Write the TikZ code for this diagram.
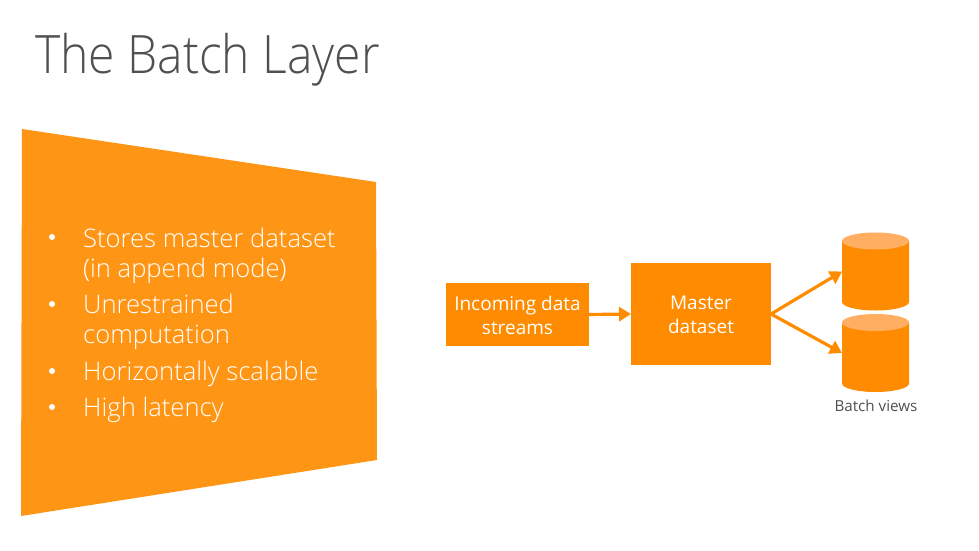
\documentclass[tikz,border=0pt]{standalone}
\usepackage{fontspec}
\setmainfont{Open Sans}
\newfontfamily\lightfont{Open Sans Light}
\usetikzlibrary{arrows.meta}
\definecolor{panel}{HTML}{FF9515}
\definecolor{boxfill}{HTML}{FF8C00}
\definecolor{captop}{HTML}{FFAE62}
\definecolor{titlegray}{HTML}{505050}
\definecolor{labelgray}{HTML}{505050}
\tikzset{
  orangebox/.style={fill=boxfill,draw=none,inner sep=0pt,outer sep=0pt,text=white,align=center,font=\fontsize{19}{24}\selectfont},
  storeframe/.style={inner sep=0pt,outer sep=0pt,minimum width=67pt,minimum height=78pt},
  flow/.style={draw=boxfill,line width=3.2pt,-{Triangle[length=12pt,width=14pt]}},
  bullettext/.style={anchor=base west,inner sep=0pt,text=white,font=\lightfont\fontsize{25.6}{30}\selectfont},
  bulletdot/.style={circle,fill=white,inner sep=0pt,minimum size=6pt}
}
\begin{document}
\begin{tikzpicture}[x=1pt,y=-1pt]
\useasboundingbox (0,0) rectangle (979,551);
\node[anchor=base west,inner sep=0pt,text=titlegray,xscale=0.906,font=\fontsize{53}{58}\selectfont\lightfont] (title) at (35,73.5) {The Batch Layer};
\fill[panel] (22,129) -- (376,182) -- (377,460) -- (21,516) -- cycle;
\node[bulletdot] (d1) at (52,237) {};
\node[bulletdot] (d2) at (52,304) {};
\node[bulletdot] (d3) at (52,371) {};
\node[bulletdot] (d4) at (52,407) {};
\node[bullettext] (t1) at (83,247) {Stores master dataset};
\node[bullettext] (t1b) at (83,277.5) {(in append mode)};
\node[bullettext] (t2) at (83,313.5) {Unrestrained};
\node[bullettext] (t2b) at (83,343.5) {computation};
\node[bullettext] (t3) at (83,380) {Horizontally scalable};
\node[bullettext] (t4) at (83,416) {High latency};
\node[orangebox,minimum width=143pt,minimum height=63pt] (inc) at (517.5,314.5) {\rule{0pt}{22.8pt}Incoming data\strut\\streams\strut};
\node[orangebox,minimum width=140pt,minimum height=102pt] (mas) at (701,314) {\rule{0pt}{22.8pt}Master\strut\\dataset\strut};
\node[storeframe] (c1) at (875.5,271.5) {};
\node[storeframe] (c2) at (875.5,353) {};
\foreach \c in {c1,c2}{
  \fill[boxfill] ([yshift=-8.5pt]\c.north west) -- ([yshift=8.5pt]\c.south west)
    arc[start angle=180,end angle=360,x radius=33.5pt,y radius=8.5pt]
    -- ([yshift=-8.5pt]\c.north east) -- cycle;
  \fill[captop] ([yshift=-8.5pt]\c.north) ellipse [x radius=33.5pt,y radius=8.5pt];
}
\node[anchor=base,inner sep=0pt,text=labelgray,font=\fontsize{15.2}{18}\selectfont] (bv) at (876,411) {Batch views};
\draw[flow] (inc.east) -- (mas.west);
\draw[flow] (mas.east) -- (c1.west);
\draw[flow] (mas.east) -- (c2.west);
\end{tikzpicture}
\end{document}
